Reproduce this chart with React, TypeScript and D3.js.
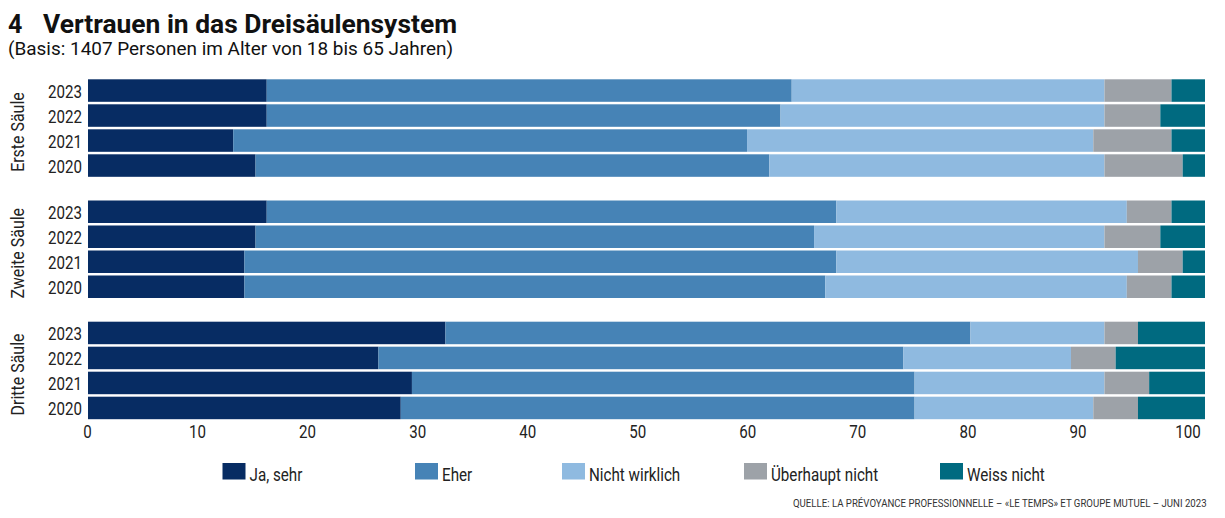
import React from "react";
import * as d3 from "d3";

const title = "Vertrauen in das Dreisäulensystem";
const titleNumber = "4";
const subtitle = "(Basis: 1407 Personen im Alter von 18 bis 65 Jahren)";
const source = "QUELLE: LA PRÉVOYANCE PROFESSIONNELLE – «LE TEMPS» ET GROUPE MUTUEL – JUNI 2023";

const groups = ["Erste Säule", "Zweite Säule", "Dritte Säule"];
const years = ["2023", "2022", "2021", "2020"];
const categories = ["Ja, sehr", "Eher", "Nicht wirklich", "Überhaupt nicht", "Weiss nicht"];
const colors = ["#072c63", "#4683b6", "#8fbae0", "#9da2a8", "#006a80"];
const ticks = [0, 10, 20, 30, 40, 50, 60, 70, 80, 90, 100];

// values per group, per year (2023..2020): [Ja sehr, Eher, Nicht wirklich, Überhaupt nicht, Weiss nicht]
const ersteSaeule = [
  [16, 47, 28, 6, 3],
  [16, 46, 29, 5, 4],
  [13, 46, 31, 7, 3],
  [15, 46, 30, 7, 2],
];
const zweiteSaeule = [
  [16, 51, 26, 4, 3],
  [15, 50, 26, 5, 4],
  [14, 53, 27, 4, 2],
  [14, 52, 27, 4, 3],
];
const dritteSaeule = [
  [32, 47, 12, 3, 6],
  [26, 47, 15, 4, 8],
  [29, 45, 17, 4, 5],
  [28, 46, 16, 4, 6],
];
const groupValues = [ersteSaeule, zweiteSaeule, dritteSaeule];

const W = 1225;
const H = 518;
const FONT = "Roboto, 'Noto Sans', sans-serif";

export default function App() {
  const xBar = d3.scaleLinear().domain([0, 100]).range([88, 1205]);
  const xAxis = d3.scaleLinear().domain([0, 100]).range([87.5, 1188]);
  const yGroup = d3.scaleBand<string>().domain(groups).range([79.3, 419.2]).paddingInner(0.1955);
  const yYear = d3.scaleBand<string>().domain(years).range([0, yGroup.bandwidth()]).paddingInner(0.1);

  const stack = d3.stack<number[], number>().keys(d3.range(categories.length)).value((d, k) => d[k]);

  const legendX = [222.5, 415, 562, 744, 940];
  const cond = 0.84;

  return (
    <svg width={W} height={H} style={{ position: "absolute", left: 0, top: 0, background: "#fff" }}>
      <rect width={W} height={H} fill="#fff" />
      {/* Title */}
      <text x={8} y={33} fontFamily={FONT} fontWeight={700} fontSize={25} fill="#111">{titleNumber}</text>
      <text x={43} y={33} fontFamily={FONT} fontWeight={700} fontSize={25} fill="#111" textLength={414} lengthAdjust="spacingAndGlyphs">{title}</text>
      <text x={8} y={55} fontFamily={FONT} fontSize={19} fill="#111" textLength={445} lengthAdjust="spacingAndGlyphs">{subtitle}</text>

      {groups.map((g, gi) => {
        const series = stack(groupValues[gi]);
        const gy = yGroup(g)!;
        return (
          <g key={g}>
            {series.map((s, si) => (
              <g key={si}>
                {s.map((d, ri) => (
                  <rect
                    key={ri}
                    x={xBar(d[0])}
                    y={gy + yYear(years[ri])!}
                    width={xBar(d[1]) - xBar(d[0])}
                    height={yYear.bandwidth()}
                    fill={colors[si]}
                  />
                ))}
              </g>
            ))}
            {years.map((yr) => (
              <g key={yr} transform={`translate(82,${gy + yYear(yr)! + yYear.bandwidth() / 2 + 7}) scale(${cond},1)`}>
                <text textAnchor="end" fontFamily={FONT} fontSize={18} fill="#222">{yr}</text>
              </g>
            ))}
            <g transform={`translate(24,${gy + yGroup.bandwidth() / 2 + 4}) rotate(-90) scale(${cond},1)`}>
              <text textAnchor="middle" fontFamily={FONT} fontSize={19} fill="#222">{g}</text>
            </g>
          </g>
        );
      })}

      {/* Axis labels */}
      {ticks.map((t) => (
        <g key={t} transform={`translate(${xAxis(t)},438) scale(${cond},1)`}>
          <text textAnchor="middle" fontFamily={FONT} fontSize={18} fill="#222">{t}</text>
        </g>
      ))}

      {/* Legend */}
      {categories.map((c, i) => (
        <g key={c} transform={`translate(${legendX[i]},463)`}>
          <rect x={0} y={0} width={23} height={16.5} fill={colors[i]} />
          <g transform={`translate(27,18) scale(0.8,1)`}>
            <text fontFamily={FONT} fontSize={19} fill="#222">{c}</text>
          </g>
        </g>
      ))}

      {/* Source */}
      <g transform="translate(793,507) scale(0.8,1)">
        <text x={0} y={0} fontFamily={FONT} fontSize={11} fill="#333" textLength={517} lengthAdjust="spacingAndGlyphs">{source}</text>
      </g>
    </svg>
  );
}
